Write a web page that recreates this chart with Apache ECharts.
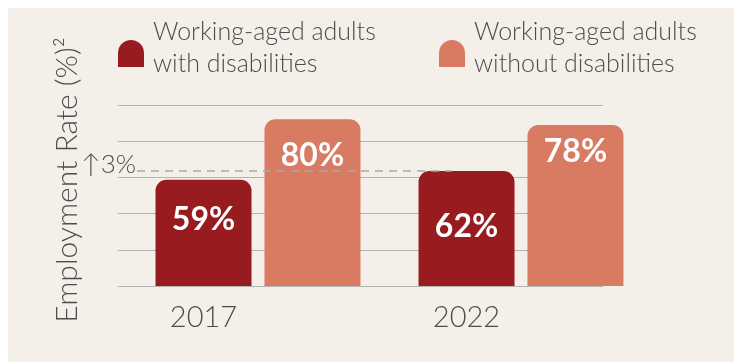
<!DOCTYPE html>
<html>
<head>
<meta charset="utf-8">
<script src="https://cdn.jsdelivr.net/npm/echarts@6/dist/echarts.min.js"></script>
<style>
  html, body { margin: 0; padding: 0; background: #fff; }
  #chart { width: 734px; height: 362px; }
</style>
</head>
<body>
<div id="chart"></div>
<script>
// Employment rate by disability status
const years = ['2017', '2022'];
const withDisabilities = [59, 62];
const withoutDisabilities = [80, 78];
const seriesNames = ['Working-aged adults\nwith disabilities', 'Working-aged adults\nwithout disabilities'];
const axisTitle = 'Employment Rate (%)²';
const gapLabel = '↑3%';
const gapLevel = 62; // 2022 rate for adults with disabilities

const DARK = '#981b1f';
const LIGHT = '#d87b62';
const PANEL = '#f5efea';
const INK = '#4d4d4d';
const FONT = 'Lato, "Noto Sans", sans-serif';

const chart = echarts.init(document.getElementById('chart'));

// distance of each value label from the top of its bar, px  [series][year]
const labelDrop = [[24, 40], [20, 11]];

function barData(values, drops) {
  return values.map((v, i) => ({ value: v, label: { distance: drops[i] } }));
}

const barLabel = {
  show: true,
  position: 'insideTop',
  formatter: '{c}%',
  color: '#fff',
  fontFamily: FONT,
  fontWeight: 'bold',
  fontSize: 32
};

chart.setOption({
  backgroundColor: '#fff',
  animation: false,
  grid: [
    { left: 118, right: 131, top: 105, bottom: 76 },   // ruled lines
    { left: 126.5, right: 81.5, top: 105, bottom: 76 } // bars
  ],
  xAxis: [
    { gridIndex: 0, type: 'category', data: years, show: false },
    {
      gridIndex: 1, type: 'category', data: years,
      axisLine: { show: false }, axisTick: { show: false },
      axisLabel: {
        margin: 17,
        formatter: '{y|{value}}',
        rich: { y: { fontFamily: FONT, fontSize: 29, fontWeight: 300, color: INK, padding: [0, 109, 0, 0] } }
      }
    }
  ],
  yAxis: [
    {
      gridIndex: 0, type: 'value', min: 0, max: 5, interval: 1,
      axisLabel: { show: false }, axisLine: { show: false }, axisTick: { show: false },
      splitLine: { lineStyle: { color: '#b3b3b3', width: 1 } }
    },
    { gridIndex: 1, type: 'value', min: 22, max: 85, show: false, splitLine: { show: false } }
  ],
  series: [
    {
      type: 'bar', name: seriesNames[0], xAxisIndex: 1, yAxisIndex: 1,
      data: barData(withDisabilities, labelDrop[0]),
      barWidth: 96, barGap: '13.5%',
      itemStyle: { color: DARK, borderRadius: [11, 11, 0, 0] },
      label: barLabel
    },
    {
      type: 'bar', name: seriesNames[1], xAxisIndex: 1, yAxisIndex: 1,
      data: barData(withoutDisabilities, labelDrop[1]),
      barWidth: 96, barGap: '13.5%',
      itemStyle: { color: LIGHT, borderRadius: [11, 11, 0, 0] },
      label: barLabel
    }
  ]
});

// reference line at the 2022 level, with the change annotation
const gapY = chart.convertToPixel({ yAxisIndex: 1 }, gapLevel);

function legendItem(x, color, text) {
  return [
    { type: 'rect', z: 5, shape: { x: x, y: 40, width: 26, height: 27, r: [13, 13, 0, 0] }, style: { fill: color } },
    {
      type: 'text', z: 5, x: x + 35, y: 16,
      style: { text: text, fontFamily: FONT, fontWeight: 300, fontSize: 25, lineHeight: 32, fill: INK, verticalAlign: 'top' }
    }
  ];
}

chart.setOption({
  graphic: [
    { type: 'rect', z: -10, silent: true, shape: { x: 8, y: 8, width: 726, height: 354 }, style: { fill: PANEL } },
    ...legendItem(118, DARK, seriesNames[0]),
    ...legendItem(439, LIGHT, seriesNames[1]),
    {
      type: 'text', z: 5, x: 67, y: 180, rotation: Math.PI / 2,
      style: { text: axisTitle, fontFamily: FONT, fontWeight: 300, fontSize: 30, fill: INK, align: 'center', verticalAlign: 'middle' }
    },
    {
      type: 'line', z: 20, silent: true,
      shape: { x1: 137, y1: gapY, x2: 452, y2: gapY },
      style: { stroke: '#a9a9a9', lineWidth: 1.5, lineDash: [8, 6] }
    },
    {
      type: 'text', z: 5, x: 136, y: gapY - 6,
      style: { text: gapLabel, fontFamily: FONT, fontWeight: 300, fontSize: 26, fill: INK, align: 'right', verticalAlign: 'middle' }
    }
  ]
});
</script>
</body>
</html>
